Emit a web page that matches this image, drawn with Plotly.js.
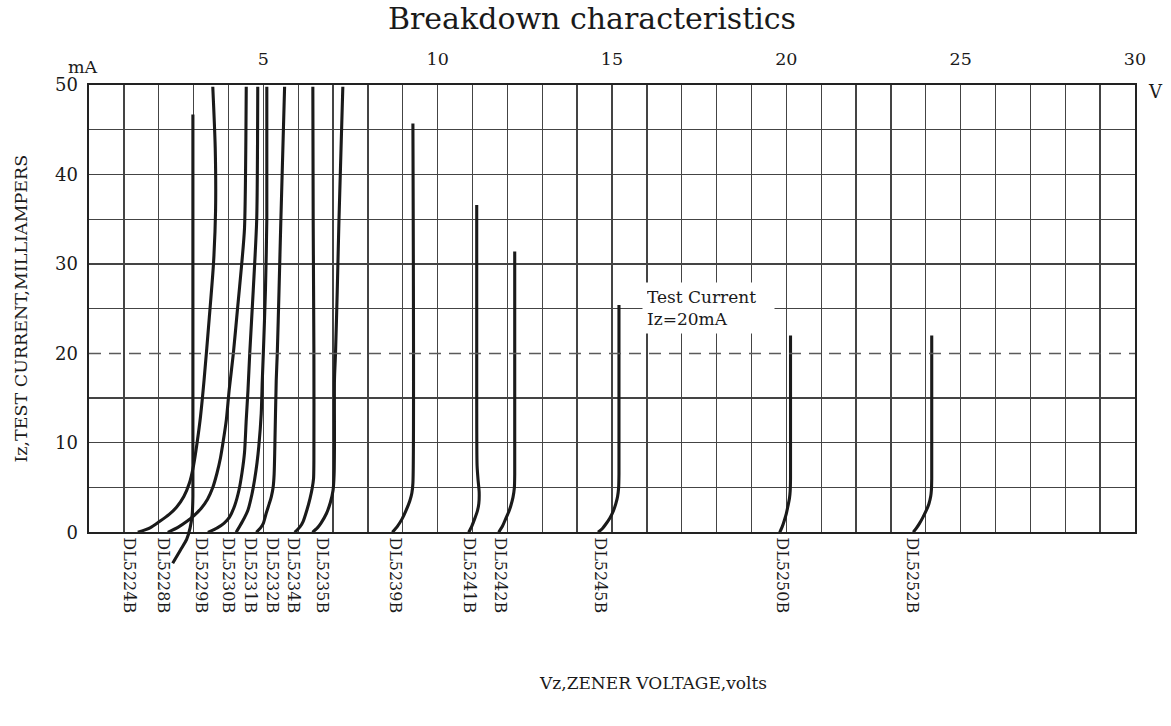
<!DOCTYPE html>
<html>
<head>
<meta charset="utf-8">
<script src="https://cdn.plot.ly/plotly-3.0.1.min.js"></script>
<style>html,body{margin:0;padding:0;background:#fff}#chart{width:1171px;height:726px}</style>
</head>
<body>
<div id="chart"></div>
<script>
// ---------- data (Vz in volts, Iz in mA) ----------
const diodeNames = ['DL5224B','DL5228B','DL5229B','DL5230B','DL5231B','DL5232B','DL5234B','DL5235B','DL5239B','DL5241B','DL5242B','DL5245B','DL5250B','DL5252B'];
const labelPos   = [1.14, 2.12, 3.22, 3.98, 4.63, 5.25, 5.87, 6.69, 8.77, 10.89, 11.80, 14.65, 19.87, 23.61];

const xTickVals = [0,1,2,3,4,5,6,7,8,9,10,11,12,13,14,15,16,17,18,19,20,21,22,23,24,25,26,27,28,29,30];
const xTickText = ['','','','','','5','','','','','10','','','','','15','','','','','20','','','','','25','','','','','30'];
const yGridVals = [0,5,10,15,25,30,35,40,45,50];
const yTickVals = [0,10,20,30,40,50];
const yTickText = ['0','10','20','30','40','50'];

const testV = [0, 30];
const testI = [20, 20];

const v5224 = [1.40, 1.75, 2.02, 2.30, 2.51, 2.72, 2.88, 3.00, 3.10, 3.20, 3.30, 3.45, 3.57, 3.63, 3.62, 3.55];
const i5224 = [0, 0.5, 1.2, 2.0, 2.8, 4.0, 5.5, 7.5, 10, 13, 17, 24, 30, 36, 43, 49.8];
const v5228 = [2.26, 2.55, 2.80, 3.02, 3.22, 3.40, 3.55, 3.67, 3.77, 3.85, 3.94, 4.02, 4.14, 4.26, 4.38, 4.46, 4.51];
const i5228 = [0, 0.55, 1.2, 1.9, 2.7, 3.7, 5.0, 6.6, 8.3, 10.2, 12.6, 15.9, 20, 25, 30, 34, 49.8];
const v5229 = [2.40, 2.62, 2.80, 2.90, 2.96, 2.98, 2.98];
const i5229 = [-3.47, -2.0, -0.8, 0.5, 2.0, 4.0, 46.7];
const v5230 = [3.41, 3.68, 3.87, 4.03, 4.18, 4.30, 4.39, 4.46, 4.51, 4.56, 4.61, 4.71, 4.81, 4.84];
const i5230 = [0, 0.5, 1.0, 1.7, 3.0, 4.7, 6.7, 8.9, 12.6, 15.9, 20, 27, 35, 49.8];
const v5231 = [4.22, 4.40, 4.56, 4.67, 4.75, 4.82, 4.87, 4.94, 4.97, 5.00, 5.06, 5.10, 5.10];
const i5231 = [0, 1.2, 2.5, 4.2, 5.9, 7.8, 9.6, 13.3, 17, 20, 27, 35, 49.8];
const v5232 = [4.80, 4.92, 5.00, 5.08, 5.17, 5.23, 5.28, 5.31, 5.33, 5.37, 5.40, 5.45, 5.50, 5.61];
const i5232 = [0, 0.5, 1.0, 2.1, 3.2, 4.0, 5.0, 6.5, 9.6, 17, 20, 27, 34.5, 49.8];
const v5234 = [5.90, 6.05, 6.14, 6.25, 6.34, 6.40, 6.44, 6.45, 6.45, 6.43, 6.42];
const i5234 = [0, 0.6, 1.2, 2.5, 3.8, 4.9, 6.0, 8.0, 20, 35, 49.8];
const v5235 = [6.41, 6.55, 6.65, 6.81, 6.92, 7.00, 7.03, 7.04, 7.04, 7.07, 7.12, 7.17, 7.28];
const i5235 = [0, 0.5, 1.0, 2.1, 3.3, 4.7, 6.5, 9.6, 17, 20, 27, 35, 49.8];
const v5239 = [8.70, 8.85, 8.98, 9.10, 9.20, 9.26, 9.29, 9.29];
const i5239 = [0, 0.7, 1.5, 2.5, 3.5, 4.4, 5.5, 45.7];
const v5241 = [10.89, 10.98, 11.06, 11.14, 11.18, 11.19, 11.16, 11.13, 11.12, 11.12];
const i5241 = [0, 0.7, 1.5, 2.4, 3.2, 4.5, 5.8, 7.5, 15, 36.6];
const v5242 = [11.75, 11.86, 11.95, 12.04, 12.10, 12.16, 12.20, 12.21, 12.21];
const i5242 = [0, 0.7, 1.5, 2.3, 3.0, 3.9, 5.0, 6.5, 31.4];
const v5245 = [14.60, 14.72, 14.82, 14.94, 15.04, 15.11, 15.16, 15.19, 15.20, 15.20];
const i5245 = [0, 0.4, 0.9, 1.6, 2.4, 3.2, 4.0, 5.0, 6.5, 25.4];
const v5250 = [19.81, 19.88, 19.94, 20.00, 20.05, 20.09, 20.11, 20.12, 20.12];
const i5250 = [0, 0.6, 1.3, 2.1, 3.0, 3.8, 4.6, 6.0, 22.0];
const v5252 = [23.64, 23.72, 23.82, 23.92, 24.02, 24.09, 24.14, 24.16, 24.17, 24.17];
const i5252 = [0, 0.4, 1.0, 1.7, 2.5, 3.2, 4.0, 4.7, 6.0, 22.0];

// ---------- styling ----------
const FONT = 'DejaVu Serif, serif';
const INK = '#1a1a1a';
const GRID = '#444444';

// geometry: plot area 89..1135 x 85..566; main y domain ends at the 0 mA line (px 532)
const M = {l:89, r:36, t:85, b:160};
const PLOT_H = 726 - M.t - M.b;
const Y_DOM0 = (726 - M.b - 532.3) / PLOT_H;
const PX_PER_MA = (1 - Y_DOM0) * PLOT_H / 50;
const Y2MIN = 50 - PLOT_H / PX_PER_MA;

const curves = [
  [v5224, i5224, false], [v5228, i5228, false], [v5229, i5229, true], [v5230, i5230, false],
  [v5231, i5231, false], [v5232, i5232, false], [v5234, i5234, false], [v5235, i5235, false],
  [v5239, i5239, false], [v5241, i5241, false], [v5242, i5242, false], [v5245, i5245, false],
  [v5250, i5250, false], [v5252, i5252, false]
];

const traces = [{
  type:'scatter', mode:'lines', x:testV, y:testI, xaxis:'x3', yaxis:'y3',
  line:{color:'#5a5a5a', width:1.5, dash:'12px,8px'}, hoverinfo:'skip'
}];
curves.forEach((c, k) => {
  traces.push({
    type:'scatter', mode:'lines', name:diodeNames[k],
    x:c[0], y:c[1],
    xaxis: c[2] ? 'x2' : 'x', yaxis: c[2] ? 'y2' : 'y',
    line:{color:INK, width:3.1, shape:'spline', smoothing:0.7},
    hoverinfo:'skip'
  });
});

const layout = {
  width:1171, height:726,
  margin:M,
  paper_bgcolor:'#ffffff', plot_bgcolor:'rgba(0,0,0,0)',
  showlegend:false,
  font:{family:FONT, size:17, color:INK},
  title:{text:'Breakdown characteristics', x:592/1171, xref:'container', xanchor:'center',
         y:1 - 18/726, yref:'container', yanchor:'middle', font:{family:FONT, size:30, color:INK}},
  xaxis:{range:[0,30], domain:[0,1], side:'top', anchor:'y',
         tickmode:'array', tickvals:xTickVals, ticktext:xTickText,
         showgrid:true, gridcolor:GRID, gridwidth:1.3, zeroline:false,
         showline:true, mirror:true, linecolor:'#222', linewidth:1.6,
         ticks:'', ticklabelstandoff:11, tickfont:{size:17.5}, fixedrange:true},
  yaxis:{range:[0,50], domain:[Y_DOM0,1], anchor:'x',
         tickmode:'array', tickvals:yGridVals, showticklabels:false,
         showgrid:true, gridcolor:GRID, gridwidth:1.3, zeroline:false,
         showline:true, mirror:true, linecolor:'#222', linewidth:1.6,
         ticks:'', fixedrange:true},
  xaxis2:{range:[0,30], domain:[0,1], anchor:'y2', visible:false, fixedrange:true},
  yaxis2:{range:[Y2MIN,50], domain:[0,1], anchor:'x2', visible:false, fixedrange:true},
  xaxis3:{range:[0,30], overlaying:'x', anchor:'y3', side:'bottom',
          tickmode:'array', tickvals:labelPos, ticktext:diodeNames, tickangle:90,
          showgrid:false, zeroline:false, showline:false, ticks:'',
          ticklabelstandoff:4, tickfont:{size:16}, fixedrange:true},
  yaxis3:{range:[0,50], overlaying:'y', anchor:'x3', side:'left',
          tickmode:'array', tickvals:yTickVals, ticktext:yTickText,
          showgrid:false, zeroline:false, showline:false, ticks:'',
          ticklabelstandoff:10, tickfont:{size:18}, fixedrange:true,
          title:{text:'Iz,TEST CURRENT,MILLIAMPERS', standoff:22, font:{size:17.5}}},
  annotations:[
    {text:'Test Current<br>Iz=20mA', x:15.85, y:25.1, xref:'x', yref:'y',
     xanchor:'left', yanchor:'middle', align:'left', showarrow:false,
     bgcolor:'#ffffff', borderpad:4, width:123, height:42, font:{size:17}},
    {text:'mA', x:(83-89)/1046, y:(566-67)/PLOT_H, xref:'paper', yref:'paper',
     xanchor:'center', yanchor:'middle', showarrow:false, font:{size:17.5}},
    {text:'V', x:(1155-89)/1046, y:(566-92)/PLOT_H, xref:'paper', yref:'paper',
     xanchor:'center', yanchor:'middle', showarrow:false, font:{size:18}},
    {text:'Vz,ZENER VOLTAGE,volts', x:(653-89)/1046, y:(566-683)/PLOT_H, xref:'paper', yref:'paper',
     xanchor:'center', yanchor:'middle', showarrow:false, font:{size:17}}
  ]
};

Plotly.newPlot('chart', traces, layout, {staticPlot:true, displayModeBar:false});
</script>
</body>
</html>
